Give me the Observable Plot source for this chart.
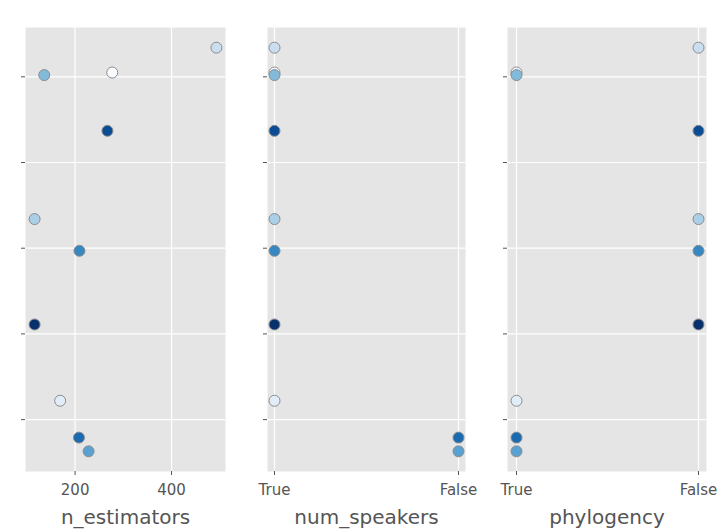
<!DOCTYPE html>
<html><head><meta charset="utf-8">
<script src="https://cdn.jsdelivr.net/npm/d3@7"></script>
<script src="https://cdn.jsdelivr.net/npm/@observablehq/plot@0.6"></script>
<style>
body{margin:0;background:#fff;}
#chart{display:flex;width:725px;height:532px;}
#chart svg{display:block;}
</style>
</head><body><div id="chart"></div>
<script>
// data (in iteration order)
const iteration   = [0, 1, 2, 3, 4, 5, 6, 7, 8, 9];
const nEstimators = [277, 169, 493, 116, 136, 228, 209, 208, 267, 116];
const numSpeakers = ["True","True","True","True","True","False","True","False","True","True"];
const phylogency  = ["True","True","False","False","True","True","False","True","False","False"];
const score       = [4.05, 0.22, 4.34, 2.34, 4.02, -0.37, 1.97, -0.21, 3.37, 1.11];
const yTicks      = [0, 1, 2, 3, 4];
const nEstTicks   = [200, 400];
const boolCats    = ["True", "False"];

const rows = iteration.map((it, i) => ({
  iteration: it, n_estimators: nEstimators[i], num_speakers: numSpeakers[i],
  phylogency: phylogency[i], score: score[i]
}));

function padded(arr) {
  const [a, b] = d3.extent(arr);
  const p = (b - a) * 0.05;
  return [a - p, b + p];
}
const yDomain = padded(score);
const FONT = "DejaVu Sans, sans-serif";
const TXT = "#555555";

function panel({field, label, x, xTicks, marginLeft, marginRight, width}) {
  return Plot.plot({
    width, height: 532,
    marginTop: 27, marginBottom: 61, marginLeft, marginRight,
    style: {fontFamily: FONT, background: "white", overflow: "visible"},
    x: {...x, label: null},
    y: {domain: yDomain, label: null},
    color: {type: "linear", scheme: "blues", domain: [0, 9]},
    marks: [
      Plot.frame({fill: "#e5e5e5", stroke: null}),
      Plot.gridX(xTicks, {stroke: "white", strokeOpacity: 1, strokeWidth: 1.2}),
      Plot.gridY(yTicks, {stroke: "white", strokeOpacity: 1, strokeWidth: 1.2}),
      Plot.axisY(yTicks, {tickSize: 4, tickFormat: () => "", stroke: TXT, label: null}),
      Plot.axisX(xTicks, {tickSize: 4, tickPadding: 9, fontSize: 15, fill: TXT, stroke: TXT, label: null}),
      Plot.dot(rows, {x: field, y: "score", fill: "iteration", r: 5.5, stroke: "#8c8c8c", strokeWidth: 1}),
      Plot.text([label], {frameAnchor: "bottom", dy: 46, fontSize: 20, fill: TXT, lineAnchor: "middle"})
    ]
  });
}

const chart = document.getElementById("chart");
chart.append(panel({field: "n_estimators", label: "n_estimators",
  x: {type: "linear", domain: padded(nEstimators)}, xTicks: nEstTicks,
  marginLeft: 25, marginRight: 15, width: 240}));
chart.append(panel({field: "num_speakers", label: "num_speakers",
  x: {type: "point", domain: boolCats, padding: 0.038}, xTicks: boolCats,
  marginLeft: 27, marginRight: 15, width: 240}));
chart.append(panel({field: "phylogency", label: "phylogency",
  x: {type: "point", domain: boolCats, padding: 0.046}, xTicks: boolCats,
  marginLeft: 27, marginRight: 19, width: 245}));
</script>
</body></html>
